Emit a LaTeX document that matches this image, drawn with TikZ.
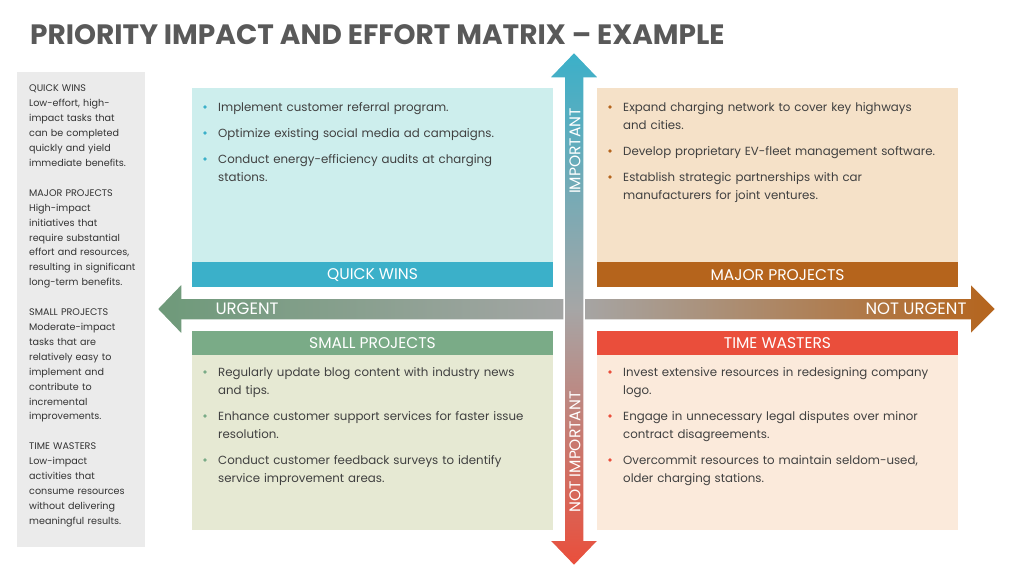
\documentclass[tikz,border=0pt]{standalone}
\usepackage{fontspec}
\setmainfont{Poppins}
\begin{document}
\begin{tikzpicture}[x=1pt,y=-1pt,
  body/.style={anchor=north west,inner sep=0pt,font=\fontsize{11.8}{18}\selectfont,text=black!75,text width=#1,align=left},
  hdr/.style={text=white,font=\fontsize{15.5}{16}\selectfont},
  side/.style={anchor=north west,inner sep=0pt,font=\fontsize{9.6}{14.9}\selectfont,text=black!80,text width=125,align=left}]
\definecolor{teal}{HTML}{3BB0C9}\definecolor{tealL}{HTML}{CDEEED}
\definecolor{org}{HTML}{B5641C}\definecolor{orgL}{HTML}{F5E1C8}
\definecolor{grn}{HTML}{7AAB87}\definecolor{grnL}{HTML}{E6E9D3}
\definecolor{red}{HTML}{EA4E3B}\definecolor{redL}{HTML}{FBEADB}
\useasboundingbox (0,0) rectangle (1024,576);
\node[anchor=west,inner sep=0pt,font=\fontsize{28}{30}\selectfont\bfseries,text=black!65] (title) at (30,35) {PRIORITY IMPACT AND EFFORT MATRIX – EXAMPLE};
\fill[black!8] (17,72) rectangle (145,547);
\node[side] (side) at (29,85) {QUICK WINS\\Low-effort, high-\\impact tasks that\\can be completed\\quickly and yield\\immediate benefits.\\[15pt]MAJOR PROJECTS\\High-impact\\initiatives that\\require substantial\\effort and resources,\\resulting in significant\\long-term benefits.\\[15pt]SMALL PROJECTS\\Moderate-impact\\tasks that are\\relatively easy to\\implement and\\contribute to\\incremental\\improvements.\\[15pt]TIME WASTERS\\Low-impact\\activities that\\consume resources\\without delivering\\meaningful results.};
% quadrants
\fill[tealL] (192,88) rectangle (553,287);
\fill[teal] (192,262) rectangle (553,287);
\fill[orgL] (597,88) rectangle (958,287);
\fill[org] (597,262) rectangle (958,287);
\fill[grnL] (192,331) rectangle (553,530);
\fill[grn] (192,331) rectangle (553,355);
\fill[redL] (597,331) rectangle (958,530);
\fill[red] (597,331) rectangle (958,355);
\node[hdr] (qw) at (372.5,275) {QUICK WINS};
\node[hdr] (mp) at (777.5,275) {MAJOR PROJECTS};
\node[hdr] (sp) at (372.5,343) {SMALL PROJECTS};
\node[hdr] (tw) at (777.5,343) {TIME WASTERS};
% arrows
\shade[left color=grn!90!black,right color=org,middle color=black!35,draw=white,line width=1.5pt]
 (157,309) -- (182,283) -- (182,298) -- (970,298) -- (970,283) -- (996,309) -- (970,335) -- (970,320) -- (182,320) -- (182,335) -- cycle;
\shade[top color=teal,bottom color=red,middle color=black!35,draw=white,line width=1.5pt]
 (574,52) -- (599,78) -- (584,78) -- (584,540) -- (599,540) -- (574,566) -- (549,540) -- (564,540) -- (564,78) -- (549,78) -- cycle;
\node[text=white,font=\fontsize{16.5}{17}\selectfont,anchor=west] (ur) at (212,309) {URGENT};
\node[text=white,font=\fontsize{16.5}{17}\selectfont,anchor=east] (nu) at (970,309) {NOT URGENT};
\node[text=white,font=\fontsize{15.5}{16}\selectfont,rotate=90] (im) at (575,151) {IMPORTANT};
\node[text=white,font=\fontsize{15.5}{16}\selectfont,rotate=90] (ni) at (575,452) {NOT IMPORTANT};
% bullets
\node[body=330] (t1) at (218,102) {Implement customer referral program.};
\node[body=330] (t2) at (218,128) {Optimize existing social media ad campaigns.};
\node[body=330] (t3) at (218,154) {Conduct energy-efficiency audits at charging\\stations.};
\foreach \y in {107,133,159} \fill[teal] (205,\y) circle (1.8);
\node[body=340] (r1) at (623,102) {Expand charging network to cover key highways\\and cities.};
\node[body=340] (r2) at (623,146) {Develop proprietary EV-fleet management software.};
\node[body=340] (r3) at (623,172) {Establish strategic partnerships with car\\manufacturers for joint ventures.};
\foreach \y in {107,151,177} \fill[org] (610,\y) circle (1.8);
\node[body=340] (s1) at (218,367) {Regularly update blog content with industry news\\and tips.};
\node[body=340] (s2) at (218,411) {Enhance customer support services for faster issue\\resolution.};
\node[body=340] (s3) at (218,455) {Conduct customer feedback surveys to identify\\service improvement areas.};
\foreach \y in {372,416,460} \fill[grn] (205,\y) circle (1.8);
\node[body=340] (w1) at (623,367) {Invest extensive resources in redesigning company\\logo.};
\node[body=340] (w2) at (623,411) {Engage in unnecessary legal disputes over minor\\contract disagreements.};
\node[body=340] (w3) at (623,455) {Overcommit resources to maintain seldom-used,\\older charging stations.};
\foreach \y in {372,416,460} \fill[red] (610,\y) circle (1.8);
\end{tikzpicture}
\end{document}
